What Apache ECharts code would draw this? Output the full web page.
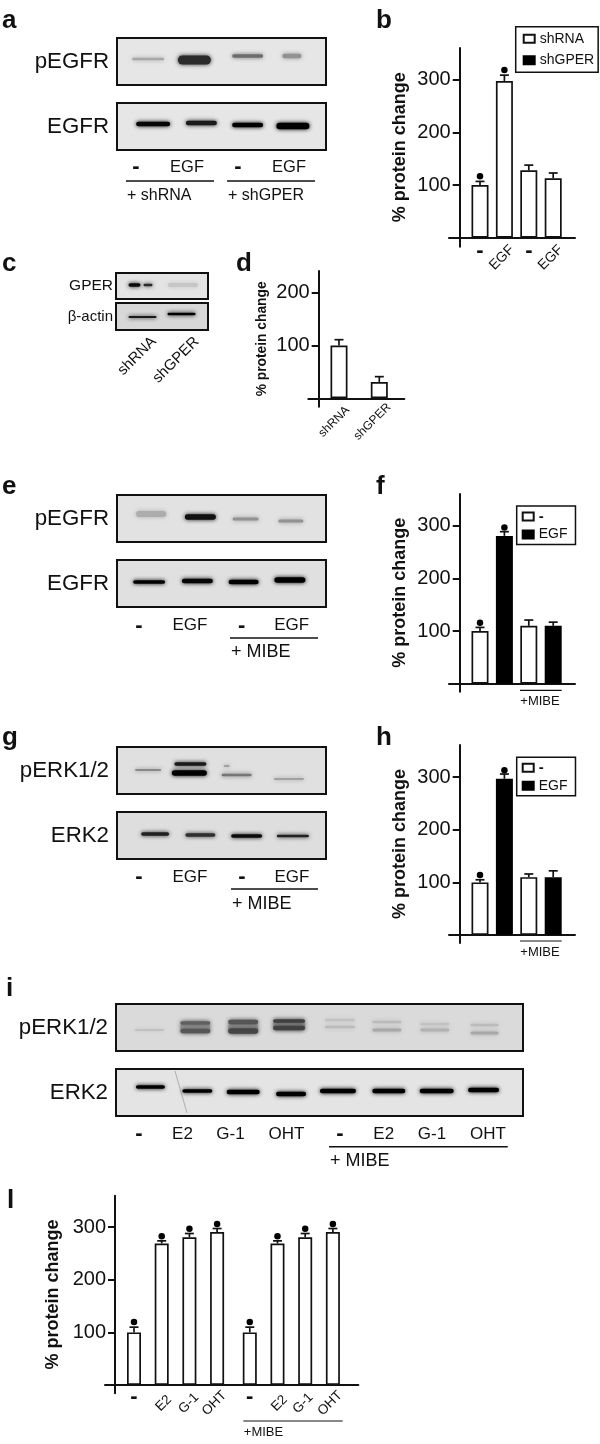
<!DOCTYPE html>
<html><head><meta charset="utf-8">
<script src="https://cdn.jsdelivr.net/npm/echarts@6/dist/echarts.min.js"></script>
<style>html,body{margin:0;padding:0;background:#fff}#c{width:600px;height:1444px}</style>
</head><body><div id="c"></div>
<script>
// ---------- chart values ----------
const yTicks = [100,200,300];
const bLabels = ['-','EGF','-','EGF'];
const bValues = [100,298,128,113];
const bErrors = [7,11,10,10];
const bDots   = [117,319,null,null];
const bDark   = [0,0,0,0];
const dLabels = ['shRNA','shGPER'];
const dValues = [100,31];
const dErrors = [11,10];
const fValues = [100,281,110,110];
const fErrors = [7,8,11,7];
const fDots   = [116,297,null,null];
const hValues = [100,297,110,110];
const hErrors = [5,9,6,12];
const hDots   = [114,313,null,null];
const treatDark = [0,1,0,1];
const lLabels = ['-','E2','G-1','OHT','-','E2','G-1','OHT'];
const lValues = [100,269,281,291,100,269,281,291];
const lErrors = [10,5,7,6.5,10,5,7,6.5];
const lDots   = [120,283,297,306,120,283,297,306];
const lPositions = [1,2,3,4,5.18,6.18,7.18,8.18];

// band darkness per blot (0 = background, 1 = black)
const lanes4 = ['-','EGF','-','EGF'];
const lanes2 = ['shRNA','shGPER'];
const lanes8 = ['-','E2','G-1','OHT','-','E2','G-1','OHT'];
const aPEGFR = [.22,.8,.5,.32];
const aEGFR  = [.97,.88,1,1];
const cGPER  = [.95,.8,.08];
const cActin = [.88,1];
const ePEGFR = [.2,.92,.32,.32];
const eEGFR  = [1,.97,1,1];
const gPERK  = [.45,.88,1,.25,.45,.25];
const gERK2  = [.85,.78,.95,.85];
const iPERK  = [.13,.3,.3,.3,.55,.6,.6,.68,.7,.7,.1,.13,.13,.22,.1,.17,.13,.22];
const iERK2  = [1,1,1,1,1,1,1,1];

// ---------- band layout: [lane, dx from lane centre, width, y in blot, height] ----------
const aPGeom=[[0,5,32,21,2.5],[1,-1,33,22,9],[2,0,31,18,3.5],[3,-8,19,18,4.5]];
const aEGeom=[[0,10,34,21,4.5],[1,6,31,20,4.5],[2,0,31,22,4.5],[3,-7,33,23,6.5]];
const cGGeom=[[0,-4.5,12,12,3.5],[0,9,9,12,2.5],[1,-2,30,12,4]];
const cAGeom=[[0,3.5,28,14,2],[1,-3.5,28,11,2.5]];
const ePGeom=[[0,8,30,19,6],[1,5,31,22,5.5],[2,-2,26,24,3],[3,-9,25,26,3]];
const eEGeom=[[0,6,32,22,3.5],[1,2,31,21,4.5],[2,-4,30,22,4.5],[3,-10,31,20,5.5]];
const gPGeom=[[0,5,26,23,1.5],[1,-5,32,17,3.5],[1,-6,35,26,5.5],[2,-21,6,19,2],[2,-11,30,28,2.5],[3,-11,30,32,2]];
const gEGeom=[[0,12,28,22,3.5],[1,5,30,23,3.5],[2,-1,31,24,3.5],[3,-7,32,24,2.5]];
const iPGeom=[[0,8,29,26,1.5],[1,3,30,23,11],[2,0,30,23,12],[3,-5,32,21,10],[1,3,30,19,3.5],[1,3,30,27,4.5],[2,0,30,18,4.5],[2,0,30,27,5.5],[3,-5,32,17,3.5],[3,-5,32,24,4.5],
 [4,-5,30,16,2.5],[4,-5,30,23,2.5],[5,-9,29,18,2.5],[5,-9,29,26,3],[6,-12,29,20,2.5],[6,-12,29,26,3],[7,-13,28,21,2.5],[7,-13,28,29,3]];
const iEGeom=[[0,9,29,18,3.5],[1,5,30,22,3.5],[2,0,33,23,4.5],[3,-3,30,25,4.5],[4,-7,36,22,4.5],[5,-7,33,22,4.5],[6,-10,34,22,4.5],[7,-14,31,21,4.5]];

const FF='"Liberation Sans", Arial, sans-serif';
const grid=[],xAxis=[],yAxis=[],series=[],legend=[],graphic=[];

function txt(x,y,t,size,o){o=o||{};
 graphic.push({type:'text',silent:true,rotation:o.rot||0,x:x,y:y,style:{text:t,x:0,y:0,fill:'#111',
  font:(o.bold?'bold ':'')+size+'px '+FF,align:o.align||'center',verticalAlign:o.va||'middle'}});}
function rule(x1,x2,y,w){graphic.push({type:'line',silent:true,shape:{x1:x1,y1:y,x2:x2,y2:y},style:{stroke:'#111',lineWidth:w||1.5}});}

function blot(name,box,laneNames,dark,geom,bg,labelSize,labelMargin){
 const g=grid.length;
 grid.push({left:box[0],top:box[1],width:box[2]-box[0],height:box[3]-box[1],show:true,backgroundColor:bg,borderColor:'#111',borderWidth:2,containLabel:false});
 xAxis.push({gridIndex:g,type:'category',data:laneNames.map((n,i)=>i+':'+n),show:false});
 yAxis.push({gridIndex:g,type:'category',data:[name],axisLine:{show:false},axisTick:{show:false},
  axisLabel:{fontFamily:FF,fontSize:labelSize||22.3,color:'#111',margin:labelMargin||8}});
 series.push({type:'custom',xAxisIndex:g,yAxisIndex:g,silent:true,z:3,
  data:geom.map((b,i)=>[b[0],0,dark[i],i]),encode:{x:0,y:1},
  renderItem:function(p,api){
   const i=api.value(3),d=api.value(2),b=geom[i],cx=api.coord([api.value(0),0])[0],top=p.coordSys.y;
   const v=Math.round(215*(1-d)),col='rgb('+v+','+v+','+v+')';
   return {type:'rect',shape:{x:cx+b[1]-b[2]/2,y:top+b[3]-b[4]/2,width:b[2],height:b[4],r:b[4]/2},
    style:{fill:col,shadowBlur:4.5,shadowColor:col}};
  }});
}

function barPanel(c){
 const g=grid.length,s=c.s,sp=c.sp,p=c.pos||c.values.map((_,i)=>i+1);
 grid.push({left:c.xL,top:c.top,width:c.xR-c.xL,height:c.bottom-c.top,containLabel:false});
 const xMin=p[0]-(c.cx0-c.xL)/sp,xMax=p[0]+(c.xR-c.cx0)/sp;
 const x0=xAxis.length;
 xAxis.push({gridIndex:g,type:'value',min:xMin,max:xMax,position:'bottom',splitLine:{show:false},
  axisLine:{onZero:true,lineStyle:{color:'#111',width:2}},axisTick:{show:false},
  axisLabel:c.rot?{show:true,hideOverlap:false,showMinLabel:true,showMaxLabel:true,customValues:c.rot.pos,rotate:45,align:'center',verticalAlign:'middle',margin:c.rot.margin,
    fontFamily:FF,fontSize:c.rot.size,color:'#111',formatter:v=>c.rot.text[c.rot.pos.indexOf(v)]}:{show:false}});
 if(c.dash){xAxis.push({gridIndex:g,type:'value',min:xMin,max:xMax,position:'bottom',splitLine:{show:false},
  axisLine:{show:false,onZero:true},axisTick:{show:false},
  axisLabel:{show:true,hideOverlap:false,showMinLabel:true,showMaxLabel:true,customValues:c.dash,verticalAlign:'middle',margin:c.dashMargin||4,fontFamily:FF,fontWeight:'bold',fontSize:22,color:'#111',formatter:()=>'-'}});}
 const y0=yAxis.length;
 yAxis.push({gridIndex:g,type:'value',min:-(c.bottom-c.base)/s,max:(c.base-c.top)/s,offset:-(c.axisX-c.xL),splitLine:{show:false},
  name:'% protein change',nameLocation:'middle',nameGap:c.nameGap,nameTextStyle:{fontFamily:FF,fontWeight:'bold',fontSize:c.titleSize,color:'#111'},
  axisLine:{show:true,onZero:false,lineStyle:{color:'#111',width:2}},axisTick:{show:true,length:7,customValues:c.ticks,lineStyle:{color:'#111',width:2}},
  axisLabel:{customValues:c.ticks,margin:9,hideOverlap:false,showMinLabel:true,showMaxLabel:true,fontFamily:FF,fontSize:20,color:'#111'}});
 const base={type:'bar',xAxisIndex:x0,yAxisIndex:y0,barWidth:c.bw,barGap:'-100%',z:2,silent:true};
 const pts=k=>c.values.map((v,i)=>[p[i],v,i]).filter(t=>!!c.dark[t[2]]===k).map(t=>[t[0],t[1]]);
 series.push(Object.assign({},base,{name:c.names?c.names[0]:'bars',data:pts(false),itemStyle:{color:'#fff',borderColor:'#111',borderWidth:1.7}}));
 if(c.names) series.push(Object.assign({},base,{name:c.names[1],data:pts(true),itemStyle:{color:'#000',borderColor:'#000',borderWidth:1.7}}));
 series.push({type:'custom',xAxisIndex:x0,yAxisIndex:y0,silent:true,z:1,
  data:c.values.map((v,i)=>[p[i],v,c.errors[i]]),encode:{x:0,y:1},
  renderItem:function(_,api){
   const a=api.coord([api.value(0),api.value(1)]),b=api.coord([api.value(0),api.value(1)+api.value(2)]);
   const st={stroke:'#111',lineWidth:1.7};
   return {type:'group',children:[
    {type:'line',shape:{x1:a[0],y1:a[1],x2:b[0],y2:b[1]},style:st},
    {type:'line',shape:{x1:b[0]-4.5,y1:b[1],x2:b[0]+4.5,y2:b[1]},style:st}]};
  }});
 if(c.dots) series.push({type:'scatter',xAxisIndex:x0,yAxisIndex:y0,silent:true,symbol:'circle',symbolSize:6.5,z:3,
  itemStyle:{color:'#000',opacity:1},data:c.dots.map((v,i)=>v==null?null:[p[i],v]).filter(Boolean)});
 if(c.legend) legend.push(c.legend);
}

const legendBase={orient:'vertical',selectedMode:false,borderColor:'#111',borderWidth:1.5,backgroundColor:'#fff',itemWidth:11,itemHeight:8,z:6,icon:'rect',
 textStyle:{fontFamily:FF,fontSize:14,color:'#111'}};

// ---------- blots ----------
blot('pEGFR',[117,38,326,85],lanes4,aPEGFR,aPGeom,'#e6e6e6');
blot('EGFR',[117,103,326,150],lanes4,aEGFR,aEGeom,'#e6e6e6');
blot('GPER',[116,273,208,299],lanes2,cGPER,cGGeom,'#e4e4e4',15.5,3);
blot('β-actin',[116,303,208,330],lanes2,cActin,cAGeom,'#d8d8d8',15,3);
blot('pEGFR',[117,495,326,542],lanes4,ePEGFR,ePGeom,'#e2e2e2');
blot('EGFR',[117,560,326,607],lanes4,eEGFR,eEGeom,'#e0e0e0');
blot('pERK1/2',[117,747,326,794],lanes4,gPERK,gPGeom,'#e0e0e0');
blot('ERK2',[117,812,326,859],lanes4,gERK2,gEGeom,'#dedede');
blot('pERK1/2',[116,1004,523,1051],lanes8,iPERK,iPGeom,'#dadada');
blot('ERK2',[116,1069,523,1116],lanes8,iERK2,iEGeom,'#e4e4e4');
graphic.push({type:'line',silent:true,z:20,shape:{x1:175,y1:1071,x2:187,y2:1113},style:{stroke:'#8a8a8a',lineWidth:1,opacity:.6}});

// ---------- bar panels ----------
barPanel({xL:449,xR:575,top:48,bottom:246.7,base:237.7,s:.526,axisX:459.7,cx0:480,sp:24.4,bw:17,
 values:bValues,errors:bErrors,dots:bDots,dark:bDark,ticks:yTicks,titleSize:18,nameGap:51,names:['shRNA','shGPER'],
 rot:{pos:[1.9,3.9],text:[bLabels[1],bLabels[3]],size:14,margin:11},dash:[1,3],
 legend:Object.assign({},legendBase,{left:515.7,top:26.7,padding:[5,4,5,7],itemGap:7.5,data:[{name:'shRNA'},{name:'shGPER'}]})});
barPanel({xL:308.3,xR:404.3,top:271,bottom:406.7,base:398.3,s:.528,axisX:318.7,cx0:339,sp:40.3,bw:17,
 values:dValues,errors:dErrors,dark:[0,0],ticks:[100,200],titleSize:13.8,nameGap:50,
 rot:{pos:[.88,1.83],text:dLabels,size:12,margin:15}});
barPanel({xL:449,xR:575,top:494,bottom:691.7,base:683.7,s:.526,axisX:459.7,cx0:480,sp:24.4,bw:17,
 values:fValues,errors:fErrors,dots:fDots,dark:treatDark,ticks:yTicks,titleSize:18,nameGap:51,names:['-','EGF'],
 legend:Object.assign({},legendBase,{left:516.7,top:506,padding:[3,8,3,5],itemGap:3.5,
  data:[{name:'-',textStyle:{fontWeight:'bold',fontSize:15}},{name:'EGF'}]})});
barPanel({xL:449,xR:575,top:745,bottom:943,base:935,s:.526,axisX:459.7,cx0:480,sp:24.4,bw:17,
 values:hValues,errors:hErrors,dots:hDots,dark:treatDark,ticks:yTicks,titleSize:18,nameGap:51,names:['-','EGF'],
 legend:Object.assign({},legendBase,{left:516.7,top:757.3,padding:[3,8,3,5],itemGap:3.5,
  data:[{name:'-',textStyle:{fontWeight:'bold',fontSize:15}},{name:'EGF'}]})});
barPanel({xL:105,xR:358.3,top:1195.7,bottom:1393.3,base:1385,s:.526,axisX:115,cx0:134,sp:27.7,bw:14,pos:lPositions,
 values:lValues,errors:lErrors,dots:lDots,dark:lValues.map(()=>0),ticks:yTicks,titleSize:18,nameGap:53,
 rot:{pos:[2.07,2.98,3.9,6.25,7.1,8.08],text:['E2','G-1','OHT','E2','G-1','OHT'],size:13.5,margin:10},dash:[1,5.18]});

// ---------- panel letters ----------
[['a',2,28],['b',376,28],['c',2,271],['d',236,271],['e',2,494],['f',376,494],['g',2,745],['h',376,745],['i',6,996],['l',7,1208]]
 .forEach(t=>txt(t[1],t[2]+6,t[0],26,{bold:true,align:'left',va:'bottom'}));

// ---------- lane labels ----------
function laneLabels(list,y,size){list.forEach(t=>{ if(t[0]==='-') txt(t[1],y,'-',22,{bold:true}); else txt(t[1],y,t[0],size); });}
laneLabels([[lanes4[0],136],[lanes4[1],187],[lanes4[2],238],[lanes4[3],289]],167,16.5);
rule(126,214,181); rule(227,315,181);
txt(127,196,'+ shRNA',16,{align:'left'}); txt(228,196,'+ shGPER',16,{align:'left'});
txt(137,356,lanes2[0],15,{rot:Math.PI/4}); txt(176,360,lanes2[1],15,{rot:Math.PI/4});
laneLabels([[lanes4[0],139],[lanes4[1],190],[lanes4[2],241.7],[lanes4[3],291.7]],625.7,17);
rule(230,318,638); txt(231,652,'+ MIBE',18,{align:'left'});
laneLabels([[lanes4[0],139],[lanes4[1],190],[lanes4[2],242],[lanes4[3],292]],877,17);
rule(231,318,889); txt(232,904,'+ MIBE',18,{align:'left'});
laneLabels([[lanes8[0],139],[lanes8[1],182.5],[lanes8[2],230.5],[lanes8[3],286.5],[lanes8[4],340],[lanes8[5],383.7],[lanes8[6],432],[lanes8[7],488]],1134,17);
rule(329,507.7,1146.7); txt(330,1160.7,'+ MIBE',18,{align:'left'});
rule(520,561.7,690.3,1.2); txt(540,701.7,'+MIBE',13);
rule(520,561.7,941,1.2); txt(540,952.7,'+MIBE',13);
rule(243.3,342.7,1421,1.2); txt(263.5,1432.3,'+MIBE',13);

const chart=echarts.init(document.getElementById('c'),null,{renderer:'canvas',width:600,height:1444});
chart.setOption({animation:false,backgroundColor:'#fff',tooltip:{show:false},grid,xAxis,yAxis,legend,series,graphic:{elements:graphic}});
</script></body></html>
